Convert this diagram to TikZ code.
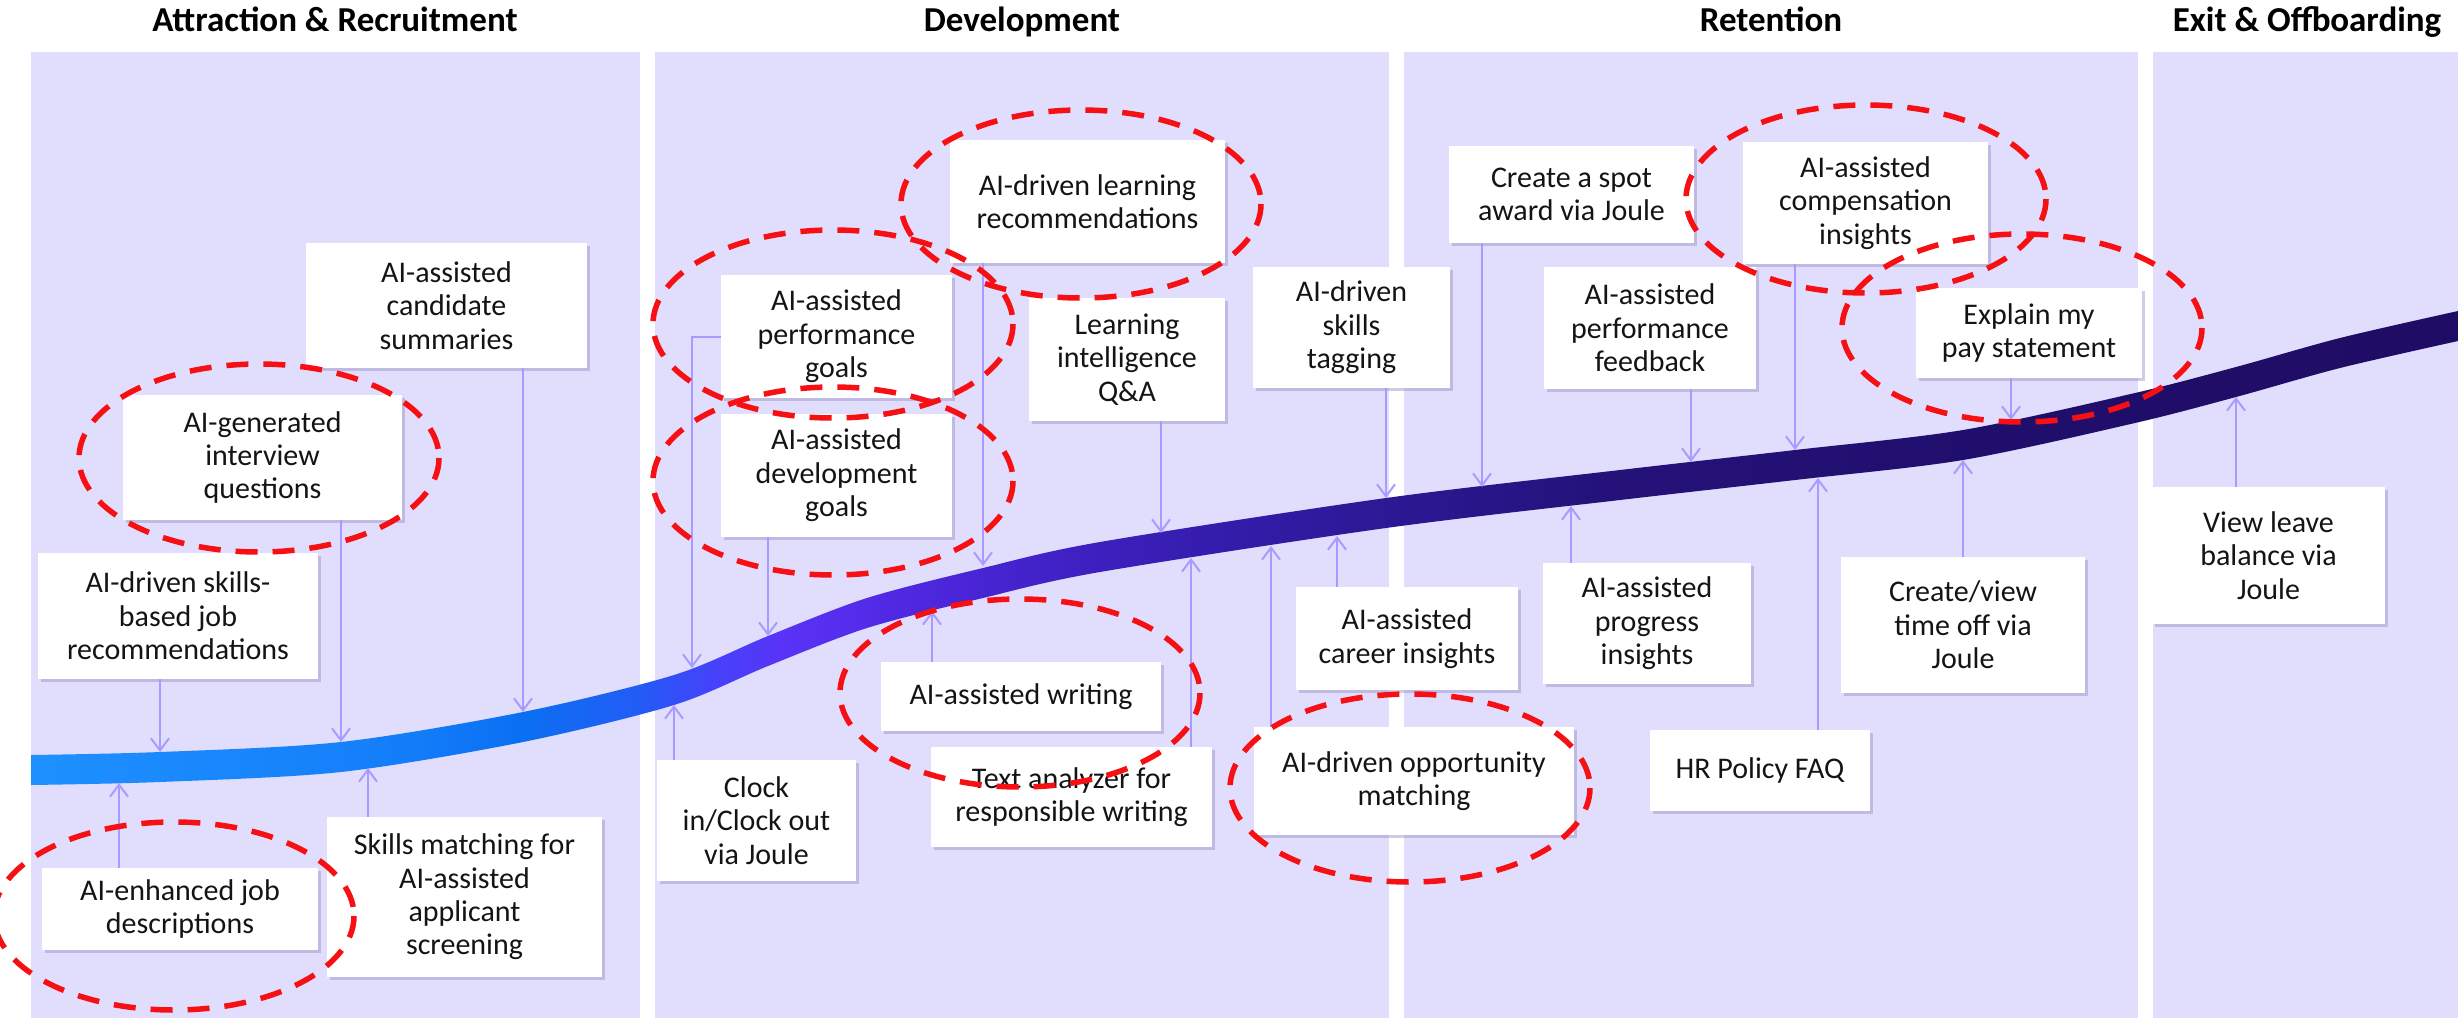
\documentclass[tikz,border=0pt]{standalone}
\usepackage{fontspec}
\setmainfont{Carlito}
\usetikzlibrary{arrows.meta,shadows}

\definecolor{panelfill}{RGB}{225,221,253}
\definecolor{linkc}{RGB}{168,155,255}
\definecolor{ringred}{RGB}{246,16,20}
\definecolor{shadowc}{RGB}{150,145,195}
\definecolor{bandA}{RGB}{30,144,255}
\definecolor{bandB}{RGB}{20,126,250}
\definecolor{bandC}{RGB}{10,112,242}
\definecolor{bandD}{RGB}{35,92,246}
\definecolor{bandE}{RGB}{72,64,250}
\definecolor{bandF}{RGB}{90,50,246}
\definecolor{bandG}{RGB}{80,40,226}
\definecolor{bandH}{RGB}{60,32,190}
\definecolor{bandI}{RGB}{48,26,160}
\definecolor{bandJ}{RGB}{36,18,122}
\definecolor{bandK}{RGB}{32,14,108}
\definecolor{bandL}{RGB}{30,12,100}

\pgfdeclarehorizontalshading{bandshade}{100bp}{color(0bp)=(bandA); color(25bp)=(bandA); color(32.6bp)=(bandB); color(35.1bp)=(bandC); color(37.5bp)=(bandD); color(39.2bp)=(bandE); color(40.6bp)=(bandF); color(42.9bp)=(bandG); color(47bp)=(bandH); color(51.1bp)=(bandI); color(57.3bp)=(bandJ); color(65.6bp)=(bandK); color(75bp)=(bandL); color(100bp)=(bandL)}

\begin{document}
\begin{tikzpicture}[x=1pt, y=-1pt,
		card/.style={fill=white, align=center, inner sep=0pt, text=black!92, font=\fontsize{30}{33.4}\selectfont, drop shadow={shadow xshift=3pt, shadow yshift=-3pt, fill=shadowc, opacity=0.45}},
		phase/.style={anchor=base, font=\fontsize{35}{40}\selectfont\bfseries},
		link/.style={draw=linkc, line width=2pt, -{Straight Barb[length=12pt, width=18pt]}},
		ring/.style={draw=ringred, line width=5.5pt, dash pattern=on 22pt off 15pt}]
	\fill [white] (0, 0) rectangle (2458, 1018);
	\useasboundingbox (0, 0) rectangle (2458, 1018);
	\fill [panelfill] (31, 52) rectangle (640, 1018);
	\fill [panelfill] (655, 52) rectangle (1389, 1018);
	\fill [panelfill] (1404, 52) rectangle (2138, 1018);
	\fill [panelfill] (2153, 52) rectangle (2458, 1018);
	\node (ph1) at (335, 31) [phase] {Attraction \& Recruitment};
	\node (ph2) at (1022, 31) [phase] {Development};
	\node (ph3) at (1771, 31) [phase] {Retention};
	\node (ph4) at (2307, 31) [phase] {Exit \& Offboarding};
	\shade [shading=bandshade] plot [smooth] coordinates {(31, 755) (160, 752) (341, 742) (523, 712) (674, 675) (768, 636) (867, 598) (983, 568) (1100, 542) (1386, 498) (1620, 470) (1795, 450) (1963, 430) (2135, 393) (2236, 367) (2340, 338) (2458, 311)}
		-- plot [smooth] coordinates {(2458, 341) (2340, 368) (2236, 397) (2135, 423) (1963, 460) (1795, 480) (1620, 500) (1386, 528) (1100, 572) (983, 598) (867, 628) (768, 666) (674, 705) (523, 742) (341, 772) (160, 782) (31, 785)} -- cycle;
	\coordinate (tsumm) at (523, 712);
	\coordinate (tinterv) at (341, 742);
	\coordinate (tjobrec) at (160, 752);
	\coordinate (tperf) at (692, 668);
	\coordinate (tdevg) at (768, 636);
	\coordinate (tlearn) at (983, 566);
	\coordinate (tqa) at (1161, 533);
	\coordinate (ttag) at (1386, 498);
	\coordinate (tspot) at (1482, 487);
	\coordinate (tfb) at (1691, 462);
	\coordinate (tcomp) at (1795, 450);
	\coordinate (tpay) at (2011, 420);
	\coordinate (tjobdesc) at (119, 783);
	\coordinate (tscreen) at (368, 768);
	\coordinate (tclock) at (674, 705);
	\coordinate (twrite) at (932, 611);
	\coordinate (tanalyzer) at (1191, 558);
	\coordinate (topp) at (1271, 546);
	\coordinate (tcareer) at (1337, 536);
	\coordinate (tprog) at (1571, 506);
	\coordinate (thr) at (1818, 478);
	\coordinate (ttime) at (1963, 460);
	\coordinate (tleave) at (2236, 397);
	\node (summ) at (446.5, 305.5) [card, minimum width=281pt, minimum height=125pt] {AI-assisted\\candidate\\summaries};
	\node (interv) at (262.5, 457.5) [card, minimum width=279pt, minimum height=125pt] {AI-generated\\interview\\questions};
	\node (jobrec) at (178, 616) [card, minimum width=280pt, minimum height=126pt] {AI-driven skills-\\based job\\recommendations};
	\node (jobdesc) at (180, 909) [card, minimum width=276pt, minimum height=82pt] {AI-enhanced job\\descriptions};
	\node (screen) at (464.5, 897) [card, minimum width=275pt, minimum height=160pt] {Skills matching for\\AI-assisted\\applicant\\screening};
	\node (perf) at (836.5, 336.5) [card, minimum width=231pt, minimum height=123pt] {AI-assisted\\performance\\goals};
	\node (devg) at (836.5, 475.5) [card, minimum width=231pt, minimum height=123pt] {AI-assisted\\development\\goals};
	\node (learn) at (1087.5, 201.5) [card, minimum width=275pt, minimum height=123pt] {AI-driven learning\\recommendations};
	\node (qa) at (1127, 359.5) [card, minimum width=196pt, minimum height=123pt] {Learning\\intelligence\\Q\&A};
	\node (tag) at (1351.5, 327.5) [card, minimum width=197pt, minimum height=121pt] {AI-driven\\skills\\tagging};
	\node (clock) at (756.5, 820.5) [card, minimum width=199pt, minimum height=121pt] {Clock\\in/Clock out\\via Joule};
	\node (write) at (1021, 696.5) [card, minimum width=280pt, minimum height=69pt] {AI-assisted writing};
	\node (analyzer) at (1071.5, 797) [card, minimum width=281pt, minimum height=100pt] {Text analyzer for\\responsible writing};
	\node (career) at (1407, 638.5) [card, minimum width=222pt, minimum height=103pt] {AI-assisted\\career insights};
	\node (opp) at (1414, 781) [card, minimum width=320pt, minimum height=108pt] {AI-driven opportunity\\matching};
	\node (spot) at (1571.5, 194.5) [card, minimum width=245pt, minimum height=97pt] {Create a spot\\award via Joule};
	\node (comp) at (1865.5, 203) [card, minimum width=245pt, minimum height=122pt] {AI-assisted\\compensation\\insights};
	\node (fb) at (1650, 328) [card, minimum width=212pt, minimum height=122pt] {AI-assisted\\performance\\feedback};
	\node (pay) at (2029, 333) [card, minimum width=226pt, minimum height=90pt] {Explain my\\pay statement};
	\node (prog) at (1647, 623.5) [card, minimum width=208pt, minimum height=121pt] {AI-assisted\\progress\\insights};
	\node (hr) at (1760, 770.5) [card, minimum width=220pt, minimum height=81pt] {HR Policy FAQ};
	\node (time) at (1963, 625) [card, minimum width=244pt, minimum height=136pt] {Create/view\\time off via\\Joule};
	\node (leave) at (2268.5, 555.5) [card, minimum width=233pt, minimum height=137pt] {View leave\\balance via\\Joule};
	\draw [link] (summ.south -| tsumm) -- (tsumm);
	\draw [link] (interv.south -| tinterv) -- (tinterv);
	\draw [link] (jobrec.south -| tjobrec) -- (tjobrec);
	\draw [link] (perf.west) -| (tperf);
	\draw [link] (devg.south -| tdevg) -- (tdevg);
	\draw [link] (learn.south -| tlearn) -- (tlearn);
	\draw [link] (qa.south -| tqa) -- (tqa);
	\draw [link] (tag.south -| ttag) -- (ttag);
	\draw [link] (spot.south -| tspot) -- (tspot);
	\draw [link] (fb.south -| tfb) -- (tfb);
	\draw [link] (comp.south -| tcomp) -- (tcomp);
	\draw [link] (pay.south -| tpay) -- (tpay);
	\draw [link] (jobdesc.north -| tjobdesc) -- (tjobdesc);
	\draw [link] (screen.north -| tscreen) -- (tscreen);
	\draw [link] (clock.north -| tclock) -- (tclock);
	\draw [link] (write.north -| twrite) -- (twrite);
	\draw [link] (analyzer.north -| tanalyzer) -- (tanalyzer);
	\draw [link] (opp.north -| topp) -- (topp);
	\draw [link] (career.north -| tcareer) -- (tcareer);
	\draw [link] (prog.north -| tprog) -- (tprog);
	\draw [link] (hr.north -| thr) -- (thr);
	\draw [link] (time.north -| ttime) -- (ttime);
	\draw [link] (leave.north -| tleave) -- (tleave);
	\draw [ring] (259, 458) ellipse [x radius=180, y radius=94];
	\draw [ring] (174, 916) ellipse [x radius=180, y radius=94];
	\draw [ring] (833, 324) ellipse [x radius=180, y radius=94];
	\draw [ring] (833, 481) ellipse [x radius=180, y radius=94];
	\draw [ring] (1081, 204) ellipse [x radius=180, y radius=94];
	\draw [ring] (1020, 693) ellipse [x radius=180, y radius=94];
	\draw [ring] (1410, 788) ellipse [x radius=180, y radius=94];
	\draw [ring] (1866, 199) ellipse [x radius=180, y radius=94];
	\draw [ring] (2022, 328) ellipse [x radius=180, y radius=94];
\end{tikzpicture}
\end{document}
